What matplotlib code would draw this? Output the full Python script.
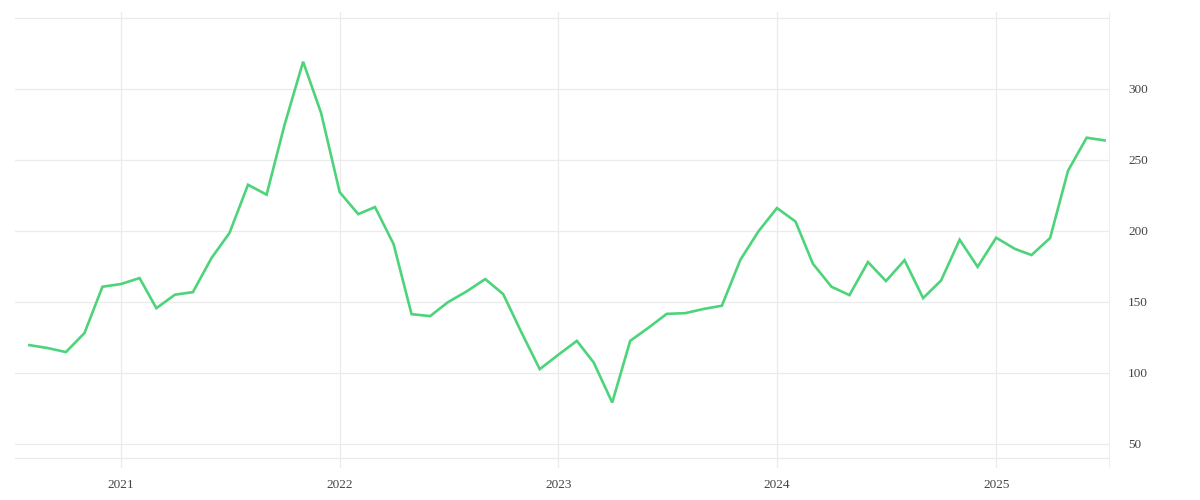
import matplotlib
matplotlib.use("Agg")
import matplotlib.pyplot as plt
import matplotlib.dates as mdates
import numpy as np
import pandas as pd

# monthly values, Aug 2020 .. Jul 2025
months = pd.date_range("2020-08-01", "2025-07-01", freq="MS")
values = [
    119.5, 117.4, 114.6, 128.0, 160.6,                      # 2020
    162.5, 166.7, 145.5, 155.0, 156.8, 180.8,
    198.4, 232.4, 225.4, 274.6, 319.0, 282.9,               # 2021
    227.2, 211.7, 216.7, 190.6, 141.3, 139.9,
    149.8, 157.3, 166.0, 155.4, 128.0, 102.6,               # 2022
    112.7, 122.5, 107.3, 79.1, 122.5, 131.9,
    141.5, 142.0, 145.0, 147.2, 179.6, 199.5,               # 2023
    216.0, 206.5, 176.8, 160.6, 154.7, 178.0,
    164.6, 179.3, 152.6, 165.0, 193.7, 174.6,               # 2024
    195.1, 187.3, 182.9, 194.9, 242.3, 265.5, 263.6,        # 2025
]
y_ticks = [50, 100, 150, 200, 250, 300]
x_ticks = ["2021-01-01", "2022-01-01", "2023-01-01", "2024-01-01", "2025-01-01"]

grid_col = "#ebebeb"
text_col = "#444444"

fig = plt.figure(figsize=(12, 5), dpi=100)
ax = fig.add_axes([0.0125, 0.064, 0.9125, 0.912])

ax.plot(months, values, color="#4dd47b", linewidth=1.9, solid_joinstyle="miter", zorder=3)

ax.set_xlim(pd.Timestamp("2020-07-08"), pd.Timestamp("2025-07-10"))
ax.set_ylim(33, 354)

# grid lines
for v in y_ticks + [350, 40]:
    ax.axhline(v, color=grid_col, linewidth=0.9, zorder=1)
for d in x_ticks:
    ax.axvline(pd.Timestamp(d), color=grid_col, linewidth=0.9, zorder=1)
ax.axvline(pd.Timestamp("2025-07-10"), color=grid_col, linewidth=1.2, zorder=1)

for s in ax.spines.values():
    s.set_visible(False)

ax.set_xticks([pd.Timestamp(d) for d in x_ticks])
ax.set_xticklabels([d[:4] for d in x_ticks])
ax.set_yticks(y_ticks)
ax.set_yticklabels([str(v) for v in y_ticks])
ax.yaxis.tick_right()
ax.tick_params(axis="both", length=0, labelsize=9.5, labelcolor=text_col)
ax.tick_params(axis="y", pad=13)
ax.tick_params(axis="x", pad=8)
for lab in ax.get_xticklabels() + ax.get_yticklabels():
    lab.set_fontfamily("Liberation Serif")

fig.savefig("out.png", dpi=100, facecolor="white")
